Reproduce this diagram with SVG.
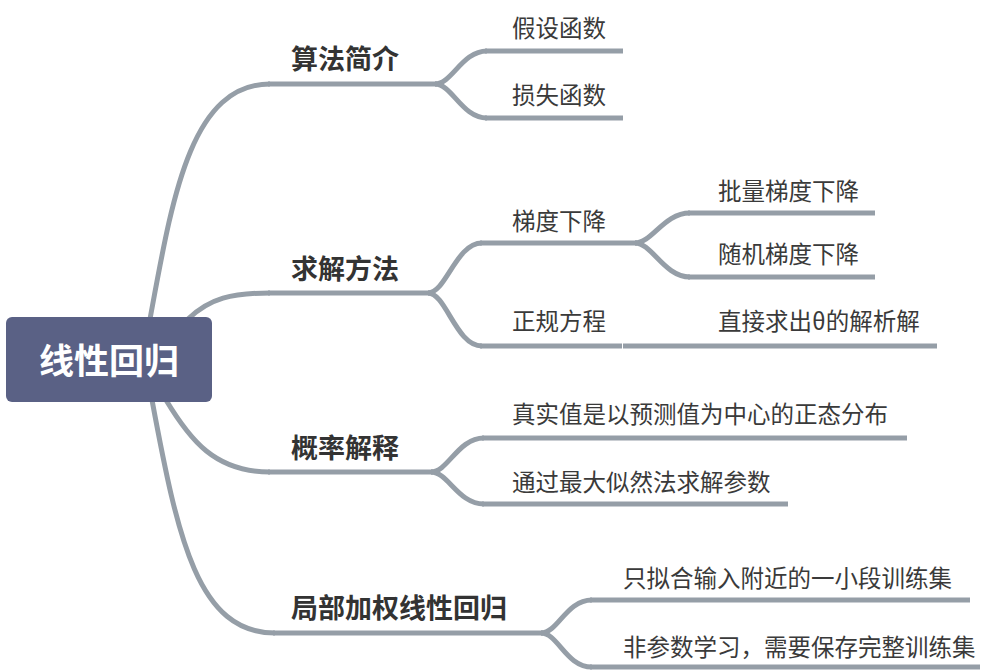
<svg xmlns="http://www.w3.org/2000/svg" width="1000" height="672" viewBox="0 0 1000 672">
<style>
.c{fill:none;stroke:#959ea7;stroke-width:5;stroke-linecap:butt}
.u{fill:none;stroke:#959ea7;stroke-width:5}
.t{font-family:"Noto Sans CJK SC","Noto Sans",sans-serif;font-size:23.5px;fill:#3a3a3a;dominant-baseline:central}
.b{font-family:"Noto Sans CJK SC","Noto Sans",sans-serif;font-size:27px;font-weight:bold;fill:#333;dominant-baseline:central}
.r{font-family:"Noto Sans CJK SC","Noto Sans",sans-serif;font-size:35px;font-weight:bold;fill:#fff;dominant-baseline:central;text-anchor:middle}
</style>
<rect width="1000" height="672" fill="#fff"/>
<g id="connectors">
<path class="c" d="M150,319 C172,200 190,84 270,84"/>
<path class="c" d="M188,319 C210,298 232,293 270,293"/>
<path class="c" d="M166,400 C190,440 215,472 270,472"/>
<path class="c" d="M152,400 C178,540 198,633 275,633"/>
<path class="c" d="M435,84 C452,84 462,51 487,51"/>
<path class="c" d="M435,84 C452,84 462,118 487,118"/>
<path class="c" d="M428,293 C446,293 456,243 482,243"/>
<path class="c" d="M428,293 C446,293 456,346 482,346"/>
<path class="c" d="M635,243 C652,243 664,213 690,213"/>
<path class="c" d="M635,243 C652,243 664,277 690,277"/>
<path class="c" d="M431,472 C448,472 458,438 484,438"/>
<path class="c" d="M431,472 C448,472 458,504 484,504"/>
<path class="c" d="M541,633 C558,633 566,600 592,600"/>
<path class="c" d="M541,633 C558,633 566,667 592,667"/>
</g>
<g id="root">
<rect x="6" y="317" width="206" height="85" rx="6" fill="#5a6185"/>
<text class="r" x="109" y="358">线性回归</text>
</g>
<g id="n1">
<path class="u" d="M268,84 H437"/>
<text class="b" x="291" y="57">算法简介</text>
</g>
<g id="n1a">
<path class="u" d="M485,51 H623"/>
<text class="t" x="512" y="27">假设函数</text>
</g>
<g id="n1b">
<path class="u" d="M485,118 H623"/>
<text class="t" x="512" y="94">损失函数</text>
</g>
<g id="n2">
<path class="u" d="M268,293 H430"/>
<text class="b" x="291" y="267">求解方法</text>
</g>
<g id="n2a">
<path class="u" d="M480,243 H637"/>
<text class="t" x="512" y="220">梯度下降</text>
</g>
<g id="n2a1">
<path class="u" d="M688,213 H875"/>
<text class="t" x="718" y="190">批量梯度下降</text>
</g>
<g id="n2a2">
<path class="u" d="M688,277 H875"/>
<text class="t" x="718" y="253">随机梯度下降</text>
</g>
<g id="n2b">
<path class="u" d="M480,346 H622"/>
<text class="t" x="512" y="320">正规方程</text>
</g>
<g id="n2b1">
<path class="u" d="M623,346 H937"/>
<text class="t" x="718" y="320">直接求出θ的解析解</text>
</g>
<g id="n3">
<path class="u" d="M268,472 H433"/>
<text class="b" x="291" y="446">概率解释</text>
</g>
<g id="n3a">
<path class="u" d="M482,438 H907"/>
<text class="t" x="512" y="413">真实值是以预测值为中心的正态分布</text>
</g>
<g id="n3b">
<path class="u" d="M482,504 H788"/>
<text class="t" x="512" y="481">通过最大似然法求解参数</text>
</g>
<g id="n4">
<path class="u" d="M273,633 H543"/>
<text class="b" x="291" y="606">局部加权线性回归</text>
</g>
<g id="n4a">
<path class="u" d="M590,600 H970"/>
<text class="t" x="623" y="577">只拟合输入附近的一小段训练集</text>
</g>
<g id="n4b">
<path class="u" d="M590,667 H980"/>
<text class="t" x="623" y="646">非参数学习，需要保存完整训练集</text>
</g>
</svg>
